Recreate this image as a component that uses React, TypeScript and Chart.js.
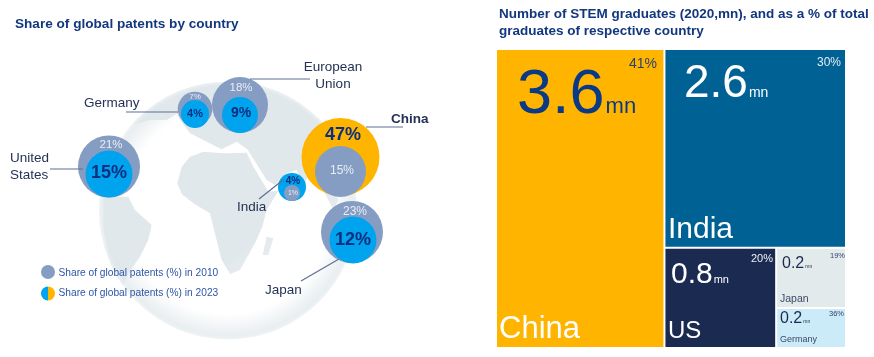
import React, { useEffect, useRef } from "react";
import { Chart, registerables } from "chart.js";

Chart.register(...registerables);

// ---- data ----
const patentCountries = ["United\nStates", "Germany", "European\nUnion", "China", "India", "Japan"];
const share2010 = [21, 7, 18, 15, 1, 23];
const share2023 = [15, 4, 9, 47, 4, 12];
const gradCountries = ["China", "India", "US", "Japan", "Germany"];
const gradLabels = ["3.6", "2.6", "0.8", "0.2", "0.2"];
const gradAreas = [3.6, 2.58, 0.8, 0.3, 0.2];
const gradShare = [41, 30, 20, 19, 36];

// ---- layout ----
const FONT = '"Liberation Sans", Arial, sans-serif';
const LEFT_W = 450;
const bubble2010 = [
  [109, 166.5, 31], [195, 109, 17.3], [240, 105, 28], [340.5, 171.5, 25.5], [292, 193, 8], [352, 232, 31],
];
const bubble2023 = [
  [109, 174, 23.5], [195, 114, 14], [240, 115, 18], [340.5, 157, 39], [292, 187, 14], [353, 240, 23.5],
];
const colour2023 = ["#00A3EE", "#00A3EE", "#00A3EE", "#FFB500", "#00A3EE", "#00A3EE"];
const GREY = "#859DC3";
const label2010 = [
  [111, 145, 11.5], [195, 97, 8], [241, 88, 11.5], [342, 171, 12], [293, 193, 7], [355, 212, 12],
];
const label2023 = [
  [109, 173, 18], [195, 114, 11], [241, 113, 14], [343, 135, 18], [293, 181, 10], [353, 240, 18],
];
const nameLayout: any[] = [
  [0, [10, 162, 13.5], "left", false],
  [1, [84, 107, 13.5], "left", false],
  [2, [333, 71, 13.5], "center", false],
  [3, [391, 123, 13.5], "left", true],
  [4, [237, 211, 13.5], "left", false],
  [5, [265, 294, 13.5], "left", false],
];
const leaders = [
  [50, 169, 83, 169], [126, 112, 178, 112], [250, 79, 310, 79], [366, 127, 403, 127], [283, 180, 259, 199], [339, 259, 301, 281],
];

const gradValue = [
  { x: 517, y: 113, s: 63, m: 22, c: "#0A3A85" },
  { x: 684, y: 97, s: 46, m: 14, c: "#FFFFFF" },
  { x: 671, y: 283, s: 30, m: 11, c: "#FFFFFF" },
  { x: 782, y: 268, s: 16, m: 5, c: "#1B2A50" },
  { x: 780, y: 323, s: 16, m: 5, c: "#1B2A50" },
];
const gradPct = [
  { x: 657, y: 68, s: 14, c: "#2B3F6B" },
  { x: 841, y: 66, s: 12, c: "#E3EDF3" },
  { x: 773, y: 262, s: 11, c: "#EEF1F6" },
  { x: 845, y: 258, s: 7.5, c: "#33456B" },
  { x: 844, y: 316, s: 7.5, c: "#33456B" },
];
const gradName = [
  { x: 499, y: 338, s: 31, c: "#FFFFFF" },
  { x: 668, y: 238, s: 30, c: "#FFFFFF" },
  { x: 668, y: 338, s: 24, c: "#FFFFFF" },
  { x: 780, y: 302, s: 10.5, c: "#3A4867" },
  { x: 780, y: 342, s: 9, c: "#3A4867" },
];
const gradColours = ["#FFB500", "#006194", "#1B2A50", "#E2EAEC", "#CCEBF8"];

// Land outlines behind the bubbles (decoration only), in px relative to the globe's box.
const LAND = [
  [[60, 230], [110, 170], [180, 150], [230, 150], [262, 130], [262, 40], [180, 30], [40, 130]],
  [[40, 380], [115, 380], [135, 420], [185, 465], [175, 510], [150, 560], [115, 610], [90, 670], [70, 640], [55, 560], [40, 480]],
  [[262, 340], [275, 290], [300, 260], [340, 245], [400, 250], [470, 248], [490, 290], [520, 340], [535, 365], [565, 362], [530, 420], [517, 470], [495, 520], [450, 600], [420, 612], [395, 570], [372, 480], [360, 430], [310, 400], [275, 372]],
  [[260, 40], [260, 130], [270, 150], [300, 190], [350, 215], [395, 238], [440, 215], [472, 238], [530, 330], [555, 345], [590, 310], [620, 300], [640, 345], [665, 300], [700, 360], [730, 420], [745, 390], [720, 340], [750, 300], [820, 200], [800, 40]],
  [[530, 500], [550, 505], [535, 555], [518, 555]],
];

function txt(ctx: CanvasRenderingContext2D, t: string, x: number, y: number, size: number, colour: string, align: CanvasTextAlign = "left", bold = false, base: CanvasTextBaseline = "alphabetic") {
  ctx.font = `${bold ? "bold " : ""}${size}px ${FONT}`;
  ctx.fillStyle = colour;
  ctx.textAlign = align;
  ctx.textBaseline = base;
  ctx.fillText(t, x, y);
}

const globePlugin = {
  id: "globe",
  beforeDatasetsDraw(chart: any) {
    const ctx: CanvasRenderingContext2D = chart.ctx;
    const cx = 228, cy = 210.5, r = 129;
    ctx.save();
    ctx.beginPath();
    ctx.arc(cx, cy, r, 0, Math.PI * 2);
    ctx.clip();
    ctx.fillStyle = "#FFFFFF";
    ctx.fillRect(cx - r, cy - r, r * 2, r * 2);
    ctx.fillStyle = "#E1E8EB";
    for (const poly of LAND) {
      ctx.beginPath();
      poly.forEach(([zx, zy], i) => {
        const px = 90 + zx / 3, py = 70 + zy / 3;
        if (i) ctx.lineTo(px, py); else ctx.moveTo(px, py);
      });
      ctx.closePath();
      ctx.fill();
    }
    const fade = ctx.createLinearGradient(cx + 10, cy + 40, cx + 80, cy + 130);
    fade.addColorStop(0, "rgba(255,255,255,0)");
    fade.addColorStop(1, "rgba(255,255,255,0.8)");
    ctx.fillStyle = fade;
    ctx.fillRect(cx - r, cy - r, r * 2, r * 2);
    const rim = ctx.createRadialGradient(cx, cy, r * 0.8, cx, cy, r);
    rim.addColorStop(0, "rgba(225,232,235,0)");
    rim.addColorStop(0.85, "rgba(225,232,235,0.75)");
    rim.addColorStop(1, "rgba(238,242,243,0.9)");
    ctx.fillStyle = rim;
    ctx.fillRect(cx - r, cy - r, r * 2, r * 2);
    ctx.restore();
  },
};

const bubbleText = {
  id: "bubbleText",
  afterDatasetsDraw(chart: any) {
    const ctx: CanvasRenderingContext2D = chart.ctx;
    ctx.save();
    txt(ctx, "Share of global patents by country", 15, 28, 13.6, "#12377F", "left", true);

    ctx.strokeStyle = "#5E6F93";
    ctx.lineWidth = 1.2;
    leaders.forEach(([a, b, c, d]) => {
      ctx.beginPath();
      ctx.moveTo(a, b);
      ctx.lineTo(c, d);
      ctx.stroke();
    });
    patentCountries.forEach((n, i) => {
      const [, [x, y, s], align, bold] = nameLayout[i];
      n.split("\n").forEach((line, k) =>
        txt(ctx, line, x, y + k * 16.5, s, "#243355", align as CanvasTextAlign, bold));
      const [ax, ay, as] = label2010[i];
      txt(ctx, `${share2010[i]}%`, ax, ay, as, "#E8EDF5", "center", false, "middle");
      const [bx, by, bs] = label2023[i];
      txt(ctx, `${share2023[i]}%`, bx, by, bs, "#0B2F80", "center", true, "middle");
    });

    // legend
    ctx.fillStyle = GREY;
    ctx.beginPath(); ctx.arc(48, 272, 7, 0, Math.PI * 2); ctx.fill();
    ctx.fillStyle = "#00A3EE";
    ctx.beginPath(); ctx.arc(48, 293.5, 7, Math.PI / 2, Math.PI * 1.5); ctx.fill();
    ctx.fillStyle = "#FFB500";
    ctx.beginPath(); ctx.arc(48, 293.5, 7, -Math.PI / 2, Math.PI / 2); ctx.fill();
    txt(ctx, "Share of global patents (%) in 2010", 58.5, 273, 10.2, "#2D55A8", "left", false, "middle");
    txt(ctx, "Share of global patents (%) in 2023", 58.5, 293.5, 10.2, "#2D55A8", "left", false, "middle");
    ctx.restore();
  },
};

// Slice the unit square by the values: a column, a row, a column, then a stack.
function cellBounds(v: number[]) {
  const total = v.reduce((a, b) => a + b, 0);
  const w0 = v[0] / total;
  const afterIndia = v[2] + v[3] + v[4];
  const h1 = v[1] / (v[1] + afterIndia);
  const w2 = ((1 - w0) * v[2]) / afterIndia;
  const h3 = ((1 - h1) * v[3]) / (v[3] + v[4]);
  return [
    [0, w0, 0, 1],
    [w0, 1, 0, h1],
    [w0, w0 + w2, h1, 1],
    [w0 + w2, 1, h1, h1 + h3],
    [w0 + w2, 1, h1 + h3, 1],
  ];
}
const cells = cellBounds(gradAreas);

const treemapWidths = {
  id: "treemapWidths",
  afterDatasetsUpdate(chart: any) {
    const xs = chart.scales.x;
    chart.getDatasetMeta(0).data.forEach((el: any, i: number) => {
      const a = xs.getPixelForValue(cells[i][0]);
      const b = xs.getPixelForValue(cells[i][1]);
      el.x = (a + b) / 2;
      el.width = b - a;
    });
  },
};

const treemapText = {
  id: "treemapText",
  afterDatasetsDraw(chart: any) {
    const ctx: CanvasRenderingContext2D = chart.ctx;
    const dx = -LEFT_W;
    ctx.save();
    txt(ctx, "Number of STEM graduates (2020,mn), and as a % of total", 499 + dx, 18, 13.5, "#12377F", "left", true);
    txt(ctx, "graduates of respective country", 499 + dx, 35, 13.5, "#12377F", "left", true);
    gradCountries.forEach((name, i) => {
      const v = gradValue[i];
      txt(ctx, gradLabels[i], v.x + dx, v.y, v.s, v.c);
      const w = ctx.measureText(gradLabels[i]).width;
      txt(ctx, "mn", v.x + dx + w + 1, v.y, v.m, v.c);
      const p = gradPct[i];
      txt(ctx, `${gradShare[i]}%`, p.x + dx, p.y, p.s, p.c, "right");
      const n = gradName[i];
      txt(ctx, name, n.x + dx, n.y, n.s, n.c);
    });
    ctx.restore();
  },
};

export default function App() {
  const leftRef = useRef<HTMLCanvasElement>(null);
  const rightRef = useRef<HTMLCanvasElement>(null);

  useEffect(() => {
    document.body.style.margin = "0";
    const toPoint = (l: number[][], i: number) => ({ x: l[i][0], y: l[i][1], r: l[i][2] });
    const idx = patentCountries.map((_, i) => i);
    const backIdx = idx.filter((i) => share2010[i] > share2023[i]);
    const frontIdx = idx.filter((i) => share2010[i] < share2023[i]);
    // Chart.js paints the first dataset on top.
    const left = new Chart(leftRef.current!, {
      type: "bubble",
      data: {
        datasets: [
          { label: "2010 (smaller)", data: frontIdx.map((i) => toPoint(bubble2010, i)), backgroundColor: GREY, borderWidth: 0 },
          { label: "2023", data: idx.map((i) => toPoint(bubble2023, i)), backgroundColor: colour2023, borderWidth: 0 },
          { label: "2010 (larger)", data: backIdx.map((i) => toPoint(bubble2010, i)), backgroundColor: GREY, borderWidth: 0 },
        ],
      },
      options: {
        responsive: false,
        animation: false,
        events: [],
        layout: { padding: 0, autoPadding: false },
        plugins: { legend: { display: false }, tooltip: { enabled: false } },
        scales: {
          x: { type: "linear", display: false, min: 0, max: LEFT_W },
          y: { type: "linear", display: false, min: 0, max: 357, reverse: true },
        },
      },
      plugins: [globePlugin, bubbleText],
    } as any);

    const right = new Chart(rightRef.current!, {
      type: "bar",
      data: {
        datasets: [
          {
            label: "STEM graduates",
            data: cells.map((c) => ({ x: (c[0] + c[1]) / 2, y: [c[2], c[3]] })),
            backgroundColor: gradColours,
            borderColor: "#FFFFFF",
            borderWidth: 1,
            borderSkipped: false,
          },
        ],
      },
      options: {
        responsive: false,
        animation: false,
        events: [],
        layout: { padding: { left: 46, right: 28, top: 49, bottom: 9 }, autoPadding: false },
        plugins: { legend: { display: false }, tooltip: { enabled: false } },
        scales: {
          x: { type: "linear", display: false, min: 0, max: 1, offset: false },
          y: { type: "linear", display: false, min: 0, max: 1, reverse: true },
        },
      },
      plugins: [treemapWidths, treemapText],
    } as any);

    return () => {
      left.destroy();
      right.destroy();
    };
  }, []);

  return (
    <div style={{ position: "relative", width: 874, height: 357, background: "#fff", overflow: "hidden" }}>
      <canvas ref={leftRef} width={LEFT_W} height={357} style={{ position: "absolute", left: 0, top: 0, width: LEFT_W, height: 357 }} />
      <canvas ref={rightRef} width={874 - LEFT_W} height={357} style={{ position: "absolute", left: LEFT_W, top: 0, width: 874 - LEFT_W, height: 357 }} />
    </div>
  );
}
